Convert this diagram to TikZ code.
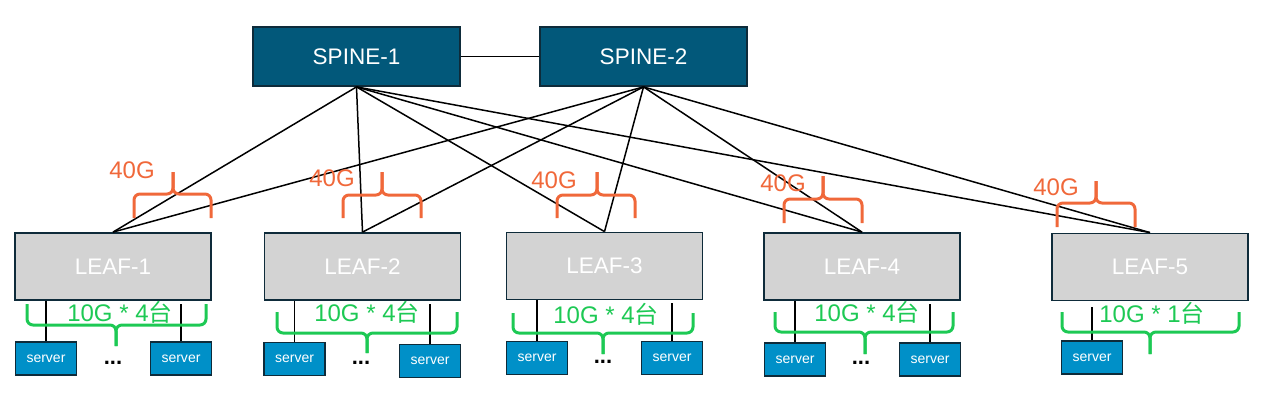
\documentclass[tikz,border=0pt]{standalone}
\usepackage{fontspec}
\setmainfont{Liberation Sans}
\newfontfamily\cjk{Noto Sans CJK SC}
\definecolor{spinefill}{HTML}{02587A}
\definecolor{boxline}{HTML}{0E2B3A}
\definecolor{leaffill}{HTML}{D3D3D3}
\definecolor{serverfill}{HTML}{0090C8}
\definecolor{bwcol}{HTML}{F0683A}
\definecolor{gcol}{HTML}{1DC954}
\newcommand\mybrace[7]{%
  \draw[#1] (#2,#5) -- (#2,#6) -- (#4,#6) -- (#4,#7);
  \draw[#1] (#3,#5) -- (#3,#6) -- (#4,#6) -- (#4,#7);
}
\begin{document}
\begin{tikzpicture}[x=1pt,y=-1pt,
  spine/.style={draw=boxline,line width=1.8pt,fill=spinefill,text=white,
    minimum width=207pt,minimum height=59pt,inner sep=0pt,
    font=\fontsize{22.5}{26}\selectfont},
  leaf/.style={draw=boxline,line width=1.8pt,fill=leaffill,text=white,
    minimum width=196pt,minimum height=67pt,inner sep=0pt,
    font=\fontsize{22.5}{26}\selectfont},
  server/.style={draw=boxline,line width=1.8pt,fill=serverfill,text=white,
    minimum width=61pt,minimum height=33pt,inner sep=0pt,
    font=\fontsize{14}{16}\selectfont},
  link/.style={draw=black,line width=1.5pt},
  bwlabel/.style={text=bwcol,inner sep=0pt,font=\fontsize{24}{28}\selectfont},
  glabel/.style={text=gcol,inner sep=0pt,font=\fontsize{24}{28}\selectfont},
  dots/.style={inner sep=0pt,anchor=base,font=\bfseries\fontsize{22}{24}\selectfont},
  obr/.style={draw=bwcol,line width=3pt,rounded corners=6pt},
  gbr/.style={draw=gcol,line width=3pt,rounded corners=6pt}]
\useasboundingbox (0,0) rectangle (1284,405);

% spines
\node[spine] (sp1) at (356.5,56.5) {SPINE-1};
\node[spine] (sp2) at (643.5,56.5) {SPINE-2};

% leaves
\node[leaf] (l1) at (113,266.5) {LEAF-1};
\node[leaf] (l2) at (362.5,266.5) {LEAF-2};
\node[leaf] (l3) at (604.5,266) {LEAF-3};
\node[leaf] (l4) at (862,266.5) {LEAF-4};
\node[leaf] (l5) at (1150,267) {LEAF-5};

% servers
\node[server] (s1a) at (46,358.5) {server};
\node[server] (s1b) at (181,358.5) {server};
\node[server] (s2a) at (294.5,359) {server};
\node[server] (s2b) at (430,361) {server};
\node[server] (s3a) at (537,358) {server};
\node[server] (s3b) at (672,358) {server};
\node[server] (s4a) at (795,359.5) {server};
\node[server] (s4b) at (930,359.5) {server};
\node[server] (s5a) at (1092,357.5) {server};

% dots
\node[dots] (d1) at (113,364) {...};
\node[dots] (d2) at (361,364) {...};
\node[dots] (d3) at (603,363) {...};
\node[dots] (d4) at (861,364) {...};

% spine links
\draw[link] (sp1) -- (sp2);
\foreach \l in {l1,l2,l3,l4,l5}{
  \draw[link] (sp1.south) -- (\l.north);
  \draw[link] (sp2.south) -- (\l.north);
}

% server links
\draw[link] (s1a.north) -- (s1a.north |- l1.south);
\draw[link] (s1b.north) -- ([yshift=-3pt]s1b.north |- l1.south);
\draw[link] (s2a.north) -- (s2a.north |- l2.south);
\draw[link] (s2b.north) -- ([yshift=-3pt]s2b.north |- l2.south);
\draw[link] (s3a.north) -- (s3a.north |- l3.south);
\draw[link] (s3b.north) -- ([yshift=-3pt]s3b.north |- l3.south);
\draw[link] (s4a.north) -- (s4a.north |- l4.south);
\draw[link] (s4b.north) -- ([yshift=-3pt]s4b.north |- l4.south);
\draw[link] (s5a.north) -- ([yshift=-6pt]s5a.north |- l5.south);

% orange braces (40G)
\mybrace{obr}{134}{211}{173}{218}{194}{172}
\mybrace{obr}{343}{421}{382}{218}{195}{172}
\mybrace{obr}{557}{635}{597}{218}{195}{172}
\mybrace{obr}{784}{862}{823}{223}{199}{176}
\mybrace{obr}{1057}{1135}{1096}{227}{203}{181}
\node[bwlabel] (b1) at (132,170) {40G};
\node[bwlabel] (b2) at (332,178) {40G};
\node[bwlabel] (b3) at (554,180) {40G};
\node[bwlabel] (b4) at (783,183) {40G};
\node[bwlabel] (b5) at (1056,187) {40G};

% green braces (server links)
\mybrace{gbr}{27}{206}{116}{304}{325}{346}
\mybrace{gbr}{277}{457}{367}{312}{333}{353}
\mybrace{gbr}{513}{693}{603}{313}{333}{354}
\mybrace{gbr}{775}{953}{865}{312}{332}{354}
\mybrace{gbr}{1062}{1239}{1150}{312}{332}{354}
\node[glabel] (g1) at (120,312) {10G * 4{\cjk 台}};
\node[glabel] (g2) at (367,312) {10G * 4{\cjk 台}};
\node[glabel] (g3) at (606,314) {10G * 4{\cjk 台}};
\node[glabel] (g4) at (867,312) {10G * 4{\cjk 台}};
\node[glabel] (g5) at (1152,313) {10G * 1{\cjk 台}};
\end{tikzpicture}
\end{document}
